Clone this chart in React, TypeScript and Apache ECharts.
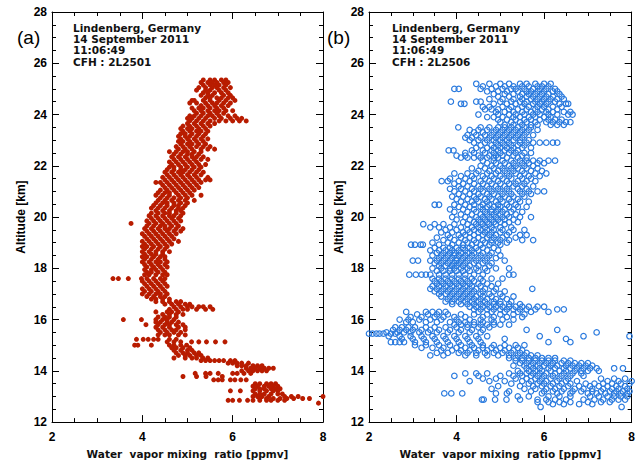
import React, { useEffect, useRef } from "react";
import * as echarts from "echarts";

// ---------- data: each row = [altitude km, water vapour mixing ratios (ppmv) ...] ----------
const panelAUpper: number[][] = [
  [25.35, 5.35, 5.5, 5.6, 5.75, 5.85],
  [25.25, 5.3, 5.45, 5.55, 5.65, 5.8, 5.9],
  [25.15, 5.35, 5.5, 5.6, 5.7, 5.85],
  [25.05, 5.25, 5.4, 5.55, 5.65, 5.8, 5.95],
  [24.95, 5.2, 5.4, 5.5, 5.7, 5.85],
  [24.85, 5.35, 5.45, 5.6, 5.75, 5.9],
  [24.75, 5.3, 5.45, 5.55, 5.8, 5.95],
  [24.65, 5.4, 5.5, 5.65, 5.75, 5.9, 6.0],
  [24.55, 5.1, 5.15, 5.35, 5.5, 5.7, 5.85, 6.05],
  [24.45, 5.05, 5.2, 5.4, 5.55, 5.65, 5.8, 5.95],
  [24.35, 5.3, 5.45, 5.6, 5.75, 5.9],
  [24.25, 5.1, 5.25, 5.35, 5.5, 5.65, 5.8],
  [24.15, 5.15, 5.3, 5.45, 5.6, 5.7, 5.85, 6.0],
  [24.05, 5.2, 5.35, 5.5, 5.65, 5.8],
  [23.95, 5.05, 5.15, 5.3, 5.45, 5.55, 5.7, 5.9, 6.05],
  [23.85, 5.0, 5.1, 5.25, 5.4, 5.6, 5.75, 5.95, 6.1, 6.2],
  [23.75, 5.05, 5.2, 5.35, 5.5, 5.7, 5.85, 6.0, 6.15, 6.3],
  [23.65, 5.0, 5.15, 5.3, 5.45, 5.6],
  [23.55, 4.9, 5.05, 5.2, 5.35, 5.5],
  [23.45, 4.85, 5.0, 5.1, 5.25, 5.4],
  [23.35, 4.9, 5.05, 5.2, 5.3, 5.45],
  [23.25, 4.85, 4.95, 5.1, 5.25, 5.4],
  [23.15, 4.8, 4.95, 5.05, 5.2, 5.35],
  [23.05, 4.85, 5.0, 5.15, 5.3, 5.45],
  [22.95, 4.8, 4.9, 5.05, 5.2, 5.35],
  [22.85, 4.85, 5.0, 5.1, 5.25, 5.4],
  [22.75, 4.75, 4.9, 5.05, 5.2, 5.35, 5.5],
  [22.65, 4.8, 4.95, 5.1, 5.3, 5.45, 5.6],
  [22.55, 4.6, 4.75, 4.9, 5.0, 5.15, 5.3],
  [22.45, 4.7, 4.85, 5.0, 5.1, 5.25],
  [22.35, 4.65, 4.8, 4.95, 5.1, 5.2, 5.35],
  [22.25, 4.7, 4.85, 5.0, 5.15, 5.3, 5.45],
  [22.15, 4.6, 4.75, 4.9, 5.05, 5.2],
  [22.05, 4.65, 4.8, 4.95, 5.1, 5.25, 5.4],
  [21.95, 4.6, 4.7, 4.85, 5.0, 5.15, 5.3],
  [21.85, 4.55, 4.7, 4.85, 4.95, 5.1, 5.25],
  [21.75, 4.5, 4.65, 4.8, 4.9, 5.05, 5.2, 5.35],
  [21.65, 4.55, 4.7, 4.85, 5.0, 5.15, 5.3],
  [21.55, 4.45, 4.6, 4.75, 4.9, 5.05, 5.2, 5.45],
  [21.45, 4.5, 4.65, 4.8, 4.95, 5.1, 5.25, 5.4, 5.5],
  [21.35, 4.3, 4.4, 4.55, 4.7, 4.85, 5.0, 5.15, 5.3],
  [21.25, 4.45, 4.6, 4.75, 4.9, 5.05, 5.2],
  [21.15, 4.5, 4.65, 4.8, 4.95, 5.1, 5.25],
  [21.05, 4.4, 4.55, 4.7, 4.85, 5.0, 5.15],
  [20.95, 4.35, 4.5, 4.6, 4.75, 4.9, 5.05],
  [20.85, 4.3, 4.45, 4.6, 4.8, 4.95, 5.1, 5.3],
  [20.75, 4.4, 4.55, 4.7, 4.85, 5.0],
  [20.65, 4.35, 4.5, 4.65, 4.8, 4.95, 5.15],
  [20.55, 4.3, 4.45, 4.55, 4.7, 4.85, 5.0],
  [20.45, 4.25, 4.4, 4.55, 4.7, 4.8, 4.95],
  [20.35, 4.2, 4.35, 4.5, 4.65, 4.8, 4.9],
  [20.25, 4.3, 4.45, 4.6, 4.75, 4.85],
  [20.15, 4.2, 4.35, 4.5, 4.6, 4.75, 4.9],
  [20.05, 4.15, 4.3, 4.45, 4.6, 4.7, 4.85],
];

const panelAMiddle: number[][] = [
  [19.95, 4.2, 4.35, 4.5, 4.65, 4.8],
  [19.85, 4.1, 4.25, 4.4, 4.55, 4.7, 4.85],
  [19.75, 3.75, 4.15, 4.3, 4.45, 4.6, 4.75],
  [19.65, 4.1, 4.25, 4.4, 4.5, 4.65, 4.8],
  [19.55, 4.05, 4.2, 4.35, 4.5, 4.6, 4.75, 4.9],
  [19.45, 4.1, 4.25, 4.4, 4.55, 4.7, 4.85],
  [19.35, 4.0, 4.15, 4.3, 4.45, 4.6, 4.75],
  [19.25, 4.05, 4.2, 4.35, 4.5, 4.65],
  [19.15, 4.1, 4.25, 4.4, 4.55, 4.7],
  [19.05, 4.0, 4.15, 4.3, 4.45, 4.6, 4.8],
  [18.95, 4.05, 4.2, 4.35, 4.5, 4.65],
  [18.85, 4.0, 4.1, 4.25, 4.4, 4.55],
  [18.75, 4.05, 4.2, 4.35, 4.5],
  [18.65, 4.0, 4.15, 4.3, 4.45, 4.6],
  [18.55, 4.05, 4.2, 4.3, 4.45],
  [18.45, 4.0, 4.1, 4.25, 4.4, 4.5],
  [18.35, 4.05, 4.2, 4.35, 4.5],
  [18.25, 4.0, 4.15, 4.3, 4.4, 4.55],
  [18.15, 4.05, 4.2, 4.35, 4.5],
  [18.05, 4.1, 4.25, 4.4, 4.55],
  [17.95, 4.05, 4.2, 4.3, 4.45],
  [17.85, 4.1, 4.2, 4.35, 4.5],
  [17.75, 4.05, 4.15, 4.3, 4.45, 4.55],
  [17.6, 3.35, 3.47, 3.69, 3.98, 4.1, 4.25, 4.4, 4.5],
  [17.5, 4.0, 4.15, 4.3, 4.45],
  [17.4, 4.05, 4.2, 4.35, 4.5],
  [17.3, 4.1, 4.25, 4.4, 4.55],
  [17.2, 4.0, 4.15, 4.3, 4.45],
  [17.1, 4.05, 4.2, 4.35, 4.5],
  [17.0, 4.0, 4.15, 4.3, 4.4, 4.55],
  [16.9, 4.1, 4.25, 4.4, 4.5],
  [16.8, 4.2, 4.3, 4.45, 4.6],
  [16.7, 4.3, 4.45, 4.6, 4.75, 4.85],
  [16.6, 4.5, 4.65, 4.8, 4.95, 5.05],
  [16.5, 4.7, 4.85, 5.0, 5.1, 5.25, 5.35, 5.5],
  [16.4, 4.6, 4.75, 4.9, 5.0, 5.2, 5.4, 5.56],
  [16.3, 4.3, 4.55, 4.65, 4.8],
  [16.2, 4.45, 4.6, 4.75, 4.9],
  [16.1, 4.35, 4.5, 4.6, 4.75],
  [16.0, 3.58, 3.98, 4.3, 4.45, 4.55, 4.7],
];

const panelALower: number[][] = [
  [15.9, 4.3, 4.4, 4.55, 4.65, 4.8],
  [15.8, 4.08, 4.35, 4.5, 4.6, 4.75, 4.9],
  [15.7, 4.3, 4.45, 4.6, 4.8, 4.95],
  [15.6, 4.35, 4.5, 4.65, 4.75, 4.95],
  [15.5, 4.4, 4.55, 4.7, 4.85],
  [15.4, 4.35, 4.5, 4.6, 4.8, 4.95],
  [15.23, 3.87, 4.02, 4.13, 4.25, 4.35, 4.6, 4.75],
  [15.13, 4.55, 4.7, 4.85, 5.09, 5.25, 5.42, 5.62, 5.83],
  [15.0, 3.83, 3.9, 4.2, 4.6, 4.7, 4.85, 4.98],
  [14.9, 4.65, 4.75, 4.9, 5.05],
  [14.8, 4.7, 4.85, 5.0, 5.1],
  [14.7, 4.75, 4.9, 5.0, 5.15, 5.25],
  [14.6, 4.8, 4.95, 5.05, 5.2, 5.3],
  [14.5, 4.7, 4.95, 5.1, 5.2, 5.34, 5.45],
  [14.4, 5.3, 5.4, 5.5, 5.6, 5.7, 5.8, 5.95, 6.05],
  [14.3, 5.9, 6.0, 6.1, 6.2, 6.35],
  [14.2, 6.1, 6.2, 6.3, 6.45, 6.55, 6.65],
  [14.1, 6.3, 6.4, 6.5, 6.6, 6.7, 6.8, 6.9],
  [14.0, 6.2, 6.35, 6.45, 6.55, 6.65, 6.75],
  [13.9, 5.17, 5.4, 5.5, 5.68, 6.0, 6.1, 6.25, 6.4],
  [13.78, 4.9, 5.2, 5.41, 5.77],
  [13.65, 5.58, 5.68, 5.77, 5.95, 6.05, 6.18, 6.3],
  [13.5, 6.5, 6.6, 6.75, 6.85, 6.95],
  [13.4, 6.45, 6.55, 6.7, 6.8, 6.9, 7.0],
  [13.3, 6.5, 6.6, 6.7, 6.85, 6.95, 7.05],
  [13.22, 5.95, 6.17, 6.45, 6.6, 6.75, 6.9, 7.0],
  [13.1, 6.5, 6.6, 6.7, 6.85, 7.0, 7.1],
  [13.0, 6.45, 6.55, 6.65, 6.8, 7.15, 7.3, 7.45, 8.0],
  [12.92, 6.6, 6.75, 6.9, 7.05, 7.2, 7.35, 7.55, 7.7],
  [12.85, 5.9, 6.0, 6.15, 6.33, 6.45, 6.6, 6.75, 6.85, 7.0, 7.15],
  [12.74, 7.9],
];

const panelBUpper: number[][] = [
  [25.2, 4.45, 4.75, 5.0, 5.2, 5.45, 5.6, 5.8, 6.0, 6.15],
  [25.1, 4.6, 4.9, 5.1, 5.3, 5.5, 5.65, 5.85, 5.95, 6.1],
  [25.0, 3.95, 4.05, 4.55, 4.8, 5.05, 5.25, 5.35, 5.55, 5.75, 5.9, 6.05, 6.25],
  [24.9, 4.7, 4.95, 5.15, 5.4, 5.6, 5.7, 5.85, 6.0, 6.2, 6.3],
  [24.8, 4.85, 5.1, 5.3, 5.5, 5.65, 5.8, 5.95, 6.1, 6.35],
  [24.7, 4.95, 5.2, 5.45, 5.6, 5.75, 5.9, 6.05, 6.2, 6.4],
  [24.6, 4.75, 5.05, 5.3, 5.5, 5.7, 5.85, 6.0, 6.15, 6.3, 6.45],
  [24.5, 3.87, 4.45, 4.55, 5.0, 5.25, 5.45, 5.6, 5.8, 5.95, 6.1, 6.25],
  [24.42, 4.1, 4.18, 4.85, 5.15, 5.35, 5.55, 5.75, 5.9, 6.05, 6.35, 6.5, 6.55],
  [24.3, 4.6, 4.75, 5.05, 5.25, 5.5, 5.65, 5.85, 6.0, 6.2, 6.4],
  [24.2, 4.65, 4.8, 4.95, 5.2, 5.4, 5.6, 5.8, 5.95, 6.1, 6.3],
  [24.1, 4.9, 5.1, 5.3, 5.5, 5.7, 5.85, 6.05, 6.2, 6.45, 6.6],
  [24.0, 4.5, 4.95, 5.2, 5.35, 5.55, 5.75, 5.9, 6.1, 6.3, 6.55, 6.65],
  [23.9, 4.7, 4.85, 5.05, 5.3, 5.45, 5.65, 5.8, 6.0, 6.15],
  [23.8, 4.95, 5.15, 5.35, 5.55, 5.7, 5.9, 6.1, 6.25, 6.4],
  [23.7, 5.0, 5.25, 5.45, 5.6, 5.8, 6.05, 6.2, 6.35, 6.5, 6.6],
  [23.6, 5.1, 5.3, 5.5, 5.7, 5.85, 6.15, 6.3, 6.45],
  [23.5, 4.04, 4.55, 4.75, 4.95, 5.1, 5.25, 5.4, 5.55, 5.7],
  [23.4, 4.3, 4.5, 4.7, 4.9, 5.05, 5.2, 5.35, 5.5, 5.65, 5.85],
  [23.3, 4.4, 4.6, 4.85, 5.0, 5.15, 5.3, 5.45, 5.6],
  [23.2, 4.25, 4.45, 4.65, 4.8, 4.95, 5.1, 5.25, 5.4, 5.55, 5.75],
  [23.1, 4.2, 4.35, 4.55, 4.75, 4.9, 5.05, 5.2, 5.35, 5.5],
  [23.0, 4.3, 4.5, 4.7, 4.85, 5.0, 5.15, 5.3, 5.45, 5.65],
  [22.9, 4.4, 4.65, 4.9, 5.05, 5.2, 5.45, 5.6, 5.75, 5.9, 6.05, 6.2, 6.3],
  [22.8, 4.55, 4.8, 4.95, 5.1, 5.25, 5.4, 5.55],
  [22.7, 4.45, 4.7, 4.85, 5.0, 5.15, 5.3, 5.5, 5.7],
  [22.6, 3.82, 3.93, 4.35, 4.6, 4.8, 4.95, 5.1, 5.25, 5.4],
  [22.5, 4.2, 4.4, 4.65, 4.85, 5.0, 5.2, 5.35, 5.55, 5.7],
  [22.4, 4.0, 4.2, 4.5, 4.75, 4.9, 5.05, 5.3, 5.5],
  [22.32, 4.1, 4.25, 4.4, 4.55, 4.7, 4.85, 4.95, 5.15, 5.4, 5.6],
  [22.2, 4.6, 4.85, 5.05, 5.25, 5.45, 5.6, 5.75, 5.9, 6.1, 6.25],
  [22.1, 4.7, 4.9, 5.1, 5.3, 5.5, 5.65, 5.85, 6.0],
  [22.0, 4.55, 4.8, 5.0, 5.2, 5.35, 5.55, 5.75],
  [21.9, 4.35, 4.65, 4.85, 5.05, 5.25, 5.4, 5.6, 5.85],
  [21.8, 4.5, 4.75, 4.95, 5.1, 5.3, 5.5, 5.7, 5.95],
  [21.7, 3.95, 4.25, 4.45, 4.7, 4.9, 5.15, 5.35, 5.55, 5.8, 6.05],
  [21.6, 4.1, 4.35, 4.6, 4.8, 5.0, 5.2, 5.45, 5.65, 5.9],
  [21.5, 3.85, 4.2, 4.4, 4.65, 4.85, 5.05, 5.25, 5.5, 5.7],
  [21.4, 3.66, 3.8, 4.05, 4.3, 4.55, 4.75, 4.95, 5.15, 5.4, 5.6, 5.8],
  [21.3, 3.95, 4.15, 4.4, 4.6, 4.8, 5.0, 5.2, 5.35, 5.55],
  [21.2, 4.05, 4.25, 4.5, 4.7, 4.9, 5.1, 5.3, 5.5, 5.75],
  [21.1, 3.85, 4.1, 4.35, 4.55, 4.75, 4.95, 5.15, 5.4, 5.6],
  [21.0, 3.95, 4.2, 4.4, 4.6, 4.8, 5.0, 5.2, 5.45, 5.65, 5.85, 6.0],
  [20.9, 4.05, 4.3, 4.5, 4.7, 4.85, 5.05, 5.25, 5.5, 5.7],
  [20.8, 3.9, 4.15, 4.4, 4.55, 4.75, 4.95, 5.1, 5.3, 5.55],
  [20.7, 4.0, 4.25, 4.45, 4.65, 4.8, 5.0, 5.2, 5.4],
  [20.6, 4.1, 4.35, 4.5, 4.7, 4.9, 5.05, 5.25, 5.45, 5.65],
  [20.48, 3.5, 3.6, 3.95, 4.2, 4.4, 4.6, 4.75, 4.95, 5.15, 5.35],
  [20.4, 4.05, 4.3, 4.55, 4.7, 4.85, 5.0, 5.2, 5.4, 5.6],
  [20.3, 3.85, 4.15, 4.4, 4.6, 4.8, 4.95, 5.1, 5.3],
  [20.2, 3.95, 4.25, 4.45, 4.65, 4.8, 4.9, 5.05, 5.25, 5.5],
  [20.1, 4.1, 4.35, 4.55, 4.7, 4.85, 5.0, 5.15, 5.35],
  [20.0, 3.9, 4.2, 4.45, 4.6, 4.75, 4.9, 5.05, 5.2, 5.45, 5.7],
];

const panelBMiddle: number[][] = [
  [19.9, 4.0, 4.3, 4.5, 4.65, 4.8, 4.95, 5.1, 5.3],
  [19.8, 4.15, 4.4, 4.55, 4.7, 4.85, 5.0, 5.2, 5.4],
  [19.72, 3.24, 3.5, 3.7, 3.95, 4.25, 4.45, 4.6, 4.75, 4.9, 5.1],
  [19.6, 3.4, 3.6, 3.85, 4.1, 4.35, 4.5, 4.65, 4.8, 5.0, 5.25],
  [19.5, 3.75, 4.0, 4.25, 4.4, 4.55, 4.7, 4.85, 5.05, 5.3, 5.55],
  [19.4, 3.65, 3.9, 4.15, 4.3, 4.5, 4.65, 4.8, 5.0, 5.2],
  [19.3, 3.8, 4.05, 4.2, 4.4, 4.6, 4.75, 4.9, 5.15, 5.45, 5.6],
  [19.2, 3.55, 3.85, 4.1, 4.3, 4.5, 4.7, 4.85, 5.05, 5.35],
  [19.1, 3.7, 3.95, 4.2, 4.4, 4.6, 4.8, 5.0, 5.2, 5.5, 5.75],
  [19.0, 3.45, 3.8, 4.05, 4.25, 4.45, 4.65, 4.8, 4.95, 5.15],
  [18.92, 2.96, 3.05, 3.18, 3.23, 3.6, 3.9, 4.15, 4.35, 4.55, 4.75, 5.0],
  [18.8, 3.5, 3.7, 3.85, 4.0, 4.15, 4.3, 4.45, 4.6, 4.85],
  [18.7, 3.4, 3.6, 3.75, 3.9, 4.05, 4.2, 4.35, 4.5, 4.7, 4.95],
  [18.6, 3.55, 3.7, 3.85, 3.95, 4.1, 4.25, 4.4, 4.6, 4.8],
  [18.5, 3.45, 3.65, 3.8, 3.95, 4.05, 4.2, 4.35, 4.55, 4.75, 5.0],
  [18.4, 3.6, 3.75, 3.9, 4.0, 4.15, 4.3, 4.5, 4.7, 4.9],
  [18.3, 3.0, 3.12, 3.4, 3.55, 3.7, 3.85, 4.0, 4.1, 4.25, 4.45, 4.65, 5.1],
  [18.2, 3.5, 3.65, 3.8, 3.95, 4.05, 4.2, 4.4, 4.6, 4.8],
  [18.1, 3.6, 3.75, 3.9, 4.0, 4.15, 4.3, 4.5, 4.75],
  [18.0, 3.45, 3.65, 3.85, 3.95, 4.1, 4.25, 4.45, 4.65, 4.9, 5.2],
  [17.9, 3.55, 3.7, 3.85, 4.0, 4.15, 4.3, 4.5, 4.7],
  [17.75, 2.92, 3.07, 3.2, 3.3, 3.4, 3.6, 3.75, 3.9, 4.05, 4.2, 4.4, 4.6, 5.2, 5.3],
  [17.6, 3.45, 3.6, 3.75, 3.9, 4.05, 4.2, 4.35, 4.55, 4.8, 5.05],
  [17.5, 3.5, 3.65, 3.8, 3.95, 4.1, 4.25, 4.4, 4.6],
  [17.4, 3.55, 3.7, 3.85, 4.0, 4.15, 4.3, 4.5, 4.7, 4.95],
  [17.3, 3.45, 3.6, 3.75, 3.9, 4.05, 4.2, 4.35, 4.55, 4.8],
  [17.2, 3.4, 3.55, 3.7, 3.85, 4.0, 4.15, 4.3, 4.45, 4.65, 4.9, 5.73],
  [17.1, 3.5, 3.65, 3.8, 3.95, 4.1, 4.25, 4.4, 4.6, 4.85, 5.1],
  [17.0, 3.6, 3.75, 3.9, 4.05, 4.2, 4.35, 4.55, 4.75, 5.0],
  [16.9, 3.65, 3.85, 4.0, 4.15, 4.3, 4.45, 4.6, 4.8, 5.05, 5.3],
  [16.8, 3.8, 3.95, 4.1, 4.25, 4.4, 4.55, 4.7, 4.9, 5.15],
  [16.7, 3.75, 3.9, 4.05, 4.2, 4.35, 4.5, 4.65, 4.85, 5.0, 5.25],
  [16.6, 3.9, 4.1, 4.25, 4.4, 4.55, 4.7, 4.85, 5.0, 5.2, 5.45],
  [16.5, 4.3, 4.45, 4.6, 4.75, 4.9, 5.05, 5.2, 5.35, 5.5, 5.65, 5.85, 6.0],
  [16.4, 4.4, 4.55, 4.7, 4.85, 5.0, 5.15, 5.3, 5.45, 5.6, 5.8, 6.3, 6.45],
  [16.3, 2.85, 3.3, 3.45, 3.6, 3.75, 4.5, 4.8, 5.1, 5.4, 5.7, 6.1],
  [16.2, 3.1, 3.35, 3.55, 3.8, 4.1, 4.4, 4.7, 5.0, 5.3, 5.55],
  [16.1, 2.95, 3.2, 3.5, 3.7, 3.95, 4.2, 4.6, 4.85, 5.15, 5.5],
  [16.0, 2.7, 2.9, 3.15, 3.4, 3.65, 4.0, 4.3, 4.55, 4.8, 5.05, 5.3],
];

const panelBLower: number[][] = [
  [15.9, 2.85, 3.0, 3.3, 3.55, 3.85, 4.05, 4.2, 4.4, 4.6, 4.85],
  [15.8, 3.95, 4.1, 4.25, 4.4, 4.55, 4.7, 4.85, 5.0, 5.2],
  [15.7, 2.6, 2.75, 2.9, 3.05, 3.3, 3.5, 3.75, 4.0, 4.25, 4.5, 4.75],
  [15.6, 2.55, 2.7, 2.85, 3.0, 3.2, 3.4, 3.6, 3.85, 4.1, 4.35, 4.6, 5.6, 6.3],
  [15.5, 2.4, 2.65, 2.8, 2.95, 3.15, 3.35, 3.55, 3.8, 4.05, 4.3, 4.55, 7.2],
  [15.45, 2.0, 2.08, 2.17, 2.24, 2.33, 2.5, 2.6],
  [15.35, 2.45, 2.7, 2.95, 3.2, 3.45, 3.7, 3.95, 4.2, 4.45, 4.7, 5.9, 6.9, 7.95],
  [15.25, 2.75, 3.0, 3.25, 3.5, 3.75, 4.0, 4.25, 4.5, 5.1, 6.5],
  [15.12, 2.5, 2.6, 2.7, 2.8, 3.05, 3.3, 3.55, 3.8, 4.05, 4.3, 4.55, 6.1, 6.6],
  [15.0, 3.05, 3.3, 3.6, 3.85, 4.1, 4.35, 4.6, 4.85, 5.1, 5.35, 5.55],
  [14.9, 3.2, 3.45, 3.7, 4.0, 4.2, 4.4, 4.6, 4.8, 5.0, 5.2, 5.4],
  [14.8, 3.65, 3.9, 4.1, 4.3, 4.5, 4.7, 4.9, 5.1, 5.3, 5.5],
  [14.7, 3.55, 3.8, 4.05, 4.25, 4.45, 4.65, 4.85, 5.05, 5.25, 5.45, 5.6],
  [14.6, 3.4, 3.7, 4.2, 4.45, 4.7, 4.95, 5.2, 5.4, 5.55, 5.7, 5.85],
  [14.5, 5.2, 5.35, 5.5, 5.65, 5.8, 5.95, 6.1, 6.25],
  [14.4, 5.35, 5.5, 5.65, 5.8, 5.95, 6.1, 6.25, 6.45, 6.6],
  [14.3, 5.45, 5.6, 5.75, 5.9, 6.05, 6.2, 6.4, 6.55, 6.7, 6.85, 7.0],
  [14.2, 5.3, 5.55, 5.7, 5.85, 6.0, 6.15, 6.3, 6.5, 6.65, 6.8, 6.95, 7.1],
  [14.1, 5.6, 5.75, 5.9, 6.1, 6.25, 6.45, 6.6, 6.75, 6.9, 7.05, 7.2, 7.6, 7.8],
  [14.0, 5.4, 5.65, 5.8, 5.95, 6.15, 6.35, 6.5, 6.7, 6.85, 7.0, 7.25],
  [13.9, 4.2, 4.45, 4.7, 5.2, 5.45, 5.6, 5.75, 5.9, 6.05, 6.25, 6.45, 6.65, 6.85],
  [13.8, 3.95, 4.5, 5.0, 5.3, 5.5, 5.7, 5.85, 6.0, 6.2, 6.4, 6.6, 6.9],
  [13.7, 4.6, 4.9, 5.35, 5.6, 5.8, 5.95, 6.15, 6.35, 6.55, 7.3, 7.6, 7.85],
  [13.6, 4.3, 4.75, 5.1, 5.5, 5.7, 5.9, 6.05, 6.3, 6.5, 6.75, 7.45, 7.7, 8.0],
  [13.5, 5.25, 5.65, 5.85, 6.0, 6.2, 6.4, 6.6, 6.95, 7.15, 7.35, 7.55, 7.75, 7.95],
  [13.4, 4.95, 5.45, 5.75, 5.95, 6.15, 6.35, 6.55, 6.8, 7.05, 7.25, 7.45, 7.65, 7.85],
  [13.3, 4.8, 5.55, 5.8, 6.05, 6.25, 6.45, 6.7, 6.9, 7.1, 7.35, 7.55, 7.7, 7.9],
  [13.2, 5.2, 5.7, 6.0, 6.2, 6.4, 6.65, 6.85, 7.1, 7.3, 7.5, 7.65, 7.8, 7.95],
  [13.12, 3.72, 3.88, 4.13, 4.9, 5.15, 5.95, 6.3, 6.6, 7.0, 7.2, 7.4, 7.6, 7.75, 7.9],
  [13.0, 5.4, 5.65, 6.1, 6.35, 6.6, 7.05, 7.25, 7.45, 7.6, 7.75, 7.9],
  [12.88, 4.58, 4.62, 4.88, 5.14, 5.45, 5.85, 6.05, 6.25, 6.5, 6.9, 7.15, 7.35, 7.55, 7.7, 7.85],
  [12.78, 5.85, 6.1, 6.35, 6.6, 7.0, 7.3, 7.5],
  [12.7, 6.2, 6.45, 6.8, 7.1],
  [12.59, 5.92, 7.77],
];

const xRange = [2, 8];
const yRange = [12, 28];
const infoA = ["Lindenberg, Germany", "14 September 2011", "11:06:49", "CFH : 2L2501"];
const infoB = ["Lindenberg, Germany", "14 September 2011", "11:06:49", "CFH : 2L2506"];
const xName = "Water  vapor mixing  ratio [ppmv]";
const yName = "Altitude [km]";

const toPoints = (...tables: number[][][]) =>
  tables.flatMap((t) => t.flatMap(([alt, ...xs]) => xs.map((x) => [x, alt])));

const LABEL_FONT = "'Liberation Sans', Arial, sans-serif";
const INFO_FONT = "'DejaVu Sans', sans-serif";

function xAxes(grid: number) {
  const common = {
    gridIndex: grid,
    type: "value",
    min: xRange[0],
    max: xRange[1],
    interval: 2,
    axisLine: { show: true, onZero: false, lineStyle: { color: "#000", width: 1 } },
    axisTick: { show: true, inside: true, length: 7, lineStyle: { color: "#000", width: 1 } },
    minorTick: { show: true, splitNumber: 4, length: 4, lineStyle: { color: "#000", width: 1 } },
    splitLine: { show: false },
  };
  return [
    {
      ...common,
      position: "bottom",
      axisLabel: { color: "#000", fontWeight: "bold", fontSize: 12, fontFamily: LABEL_FONT, margin: 9 },
      name: xName,
      nameLocation: "middle",
      nameGap: 23,
      nameTextStyle: { color: "#111", fontSize: 10.5, fontWeight: "bold", fontFamily: INFO_FONT },
    },
    { ...common, position: "top", axisLabel: { show: false } },
  ];
}

function yAxes(grid: number, gap: number) {
  const common = {
    gridIndex: grid,
    type: "value",
    min: yRange[0],
    max: yRange[1],
    interval: 2,
    axisLine: { show: true, onZero: false, lineStyle: { color: "#000", width: 1 } },
    axisTick: { show: true, inside: true, length: 7, lineStyle: { color: "#000", width: 1 } },
    minorTick: { show: true, splitNumber: 4, length: 4, lineStyle: { color: "#000", width: 1 } },
    splitLine: { show: false },
  };
  return [
    {
      ...common,
      position: "left",
      axisLabel: { color: "#000", fontWeight: "bold", fontSize: 12, fontFamily: LABEL_FONT, margin: 5 },
      name: yName,
      nameLocation: "middle",
      nameRotate: 90,
      nameGap: gap,
      nameTextStyle: { color: "#000", fontWeight: "bold", fontSize: 12, fontFamily: LABEL_FONT },
    },
    { ...common, position: "right", axisLabel: { show: false } },
  ];
}

function infoText(x: number, lines: string[]) {
  return {
    type: "text",
    x,
    y: 22,
    style: {
      text: lines.join("\n"),
      font: `bold 10.5px ${INFO_FONT}`,
      lineHeight: 11.3,
      fill: "#111",
      align: "left",
      verticalAlign: "top",
    },
  };
}

export default function App() {
  const ref = useRef<HTMLDivElement>(null);
  useEffect(() => {
    if (!ref.current) return;
    const chart = echarts.init(ref.current, undefined, { renderer: "svg" });
    const dataA = toPoints(panelAUpper, panelAMiddle, panelALower);
    const dataB = toPoints(panelBUpper, panelBMiddle, panelBLower);
    chart.setOption({
      animation: false,
      backgroundColor: "#fff",
      grid: [
        { left: 52, right: 315, top: 12, bottom: 38 },
        { left: 369, right: 5, top: 12, bottom: 38 },
      ],
      xAxis: [...xAxes(0), ...xAxes(1)],
      yAxis: [...yAxes(0, 25), ...yAxes(1, 24)],
      series: [
        {
          type: "scatter",
          xAxisIndex: 0,
          yAxisIndex: 0,
          data: dataA,
          symbol: "circle",
          symbolSize: 5,
          itemStyle: { color: "#b81c00", opacity: 1 },
          clip: false,
        },
        {
          type: "scatter",
          xAxisIndex: 2,
          yAxisIndex: 2,
          data: dataB,
          symbol: "circle",
          symbolSize: 5.5,
          itemStyle: { color: "rgba(0,0,0,0)", borderColor: "#2a7ade", borderWidth: 1.2, opacity: 1 },
          clip: false,
        },
      ],
      graphic: [
        {
          type: "text",
          x: 17,
          y: 37,
          style: { text: "(a)", font: `19px ${LABEL_FONT}`, fill: "#000", align: "left", verticalAlign: "middle" },
        },
        {
          type: "text",
          x: 327,
          y: 37,
          style: { text: "(b)", font: `19px ${LABEL_FONT}`, fill: "#000", align: "left", verticalAlign: "middle" },
        },
        infoText(73, infoA),
        infoText(392, infoB),
      ],
    });
    return () => chart.dispose();
  }, []);
  return (
    <div
      ref={ref}
      style={{ position: "fixed", left: 0, top: 0, width: 638, height: 464, background: "#fff" }}
    />
  );
}
